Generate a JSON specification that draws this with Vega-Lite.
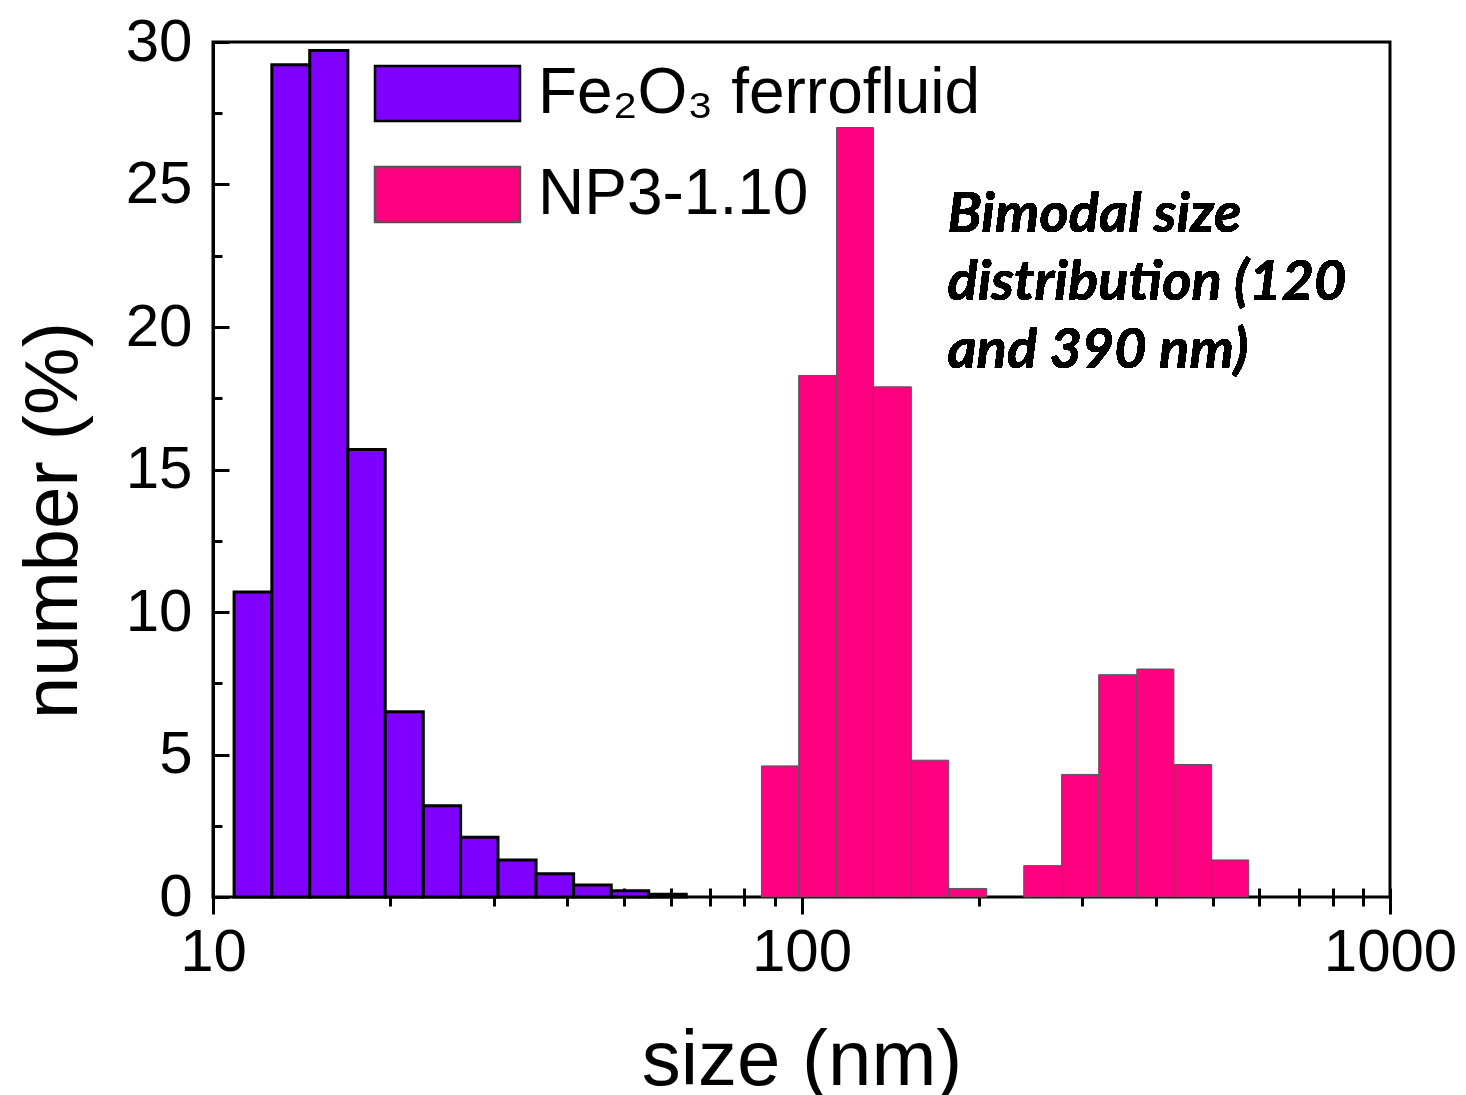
{
  "$schema": "https://vega.github.io/schema/vega-lite/v6.json",
  "autosize": {"type": "none"},
  "padding": {"left": 213, "top": 42, "right": 76, "bottom": 198},
  "width": 1177,
  "height": 855,
  "background": "white",
  "config": {
    "view": {"stroke": "black", "strokeWidth": 3},
    "axis": {"domainColor": "black", "domainWidth": 3, "tickColor": "black", "tickWidth": 3, "grid": false, "labelColor": "black", "titleColor": "black", "labelFont": "Liberation Sans", "titleFont": "Liberation Sans", "titleFontWeight": "normal"}
  },
  "data": {
    "values": [
      {"series": "Fe₂O₃ ferrofluid", "x0": 10.86, "x1": 12.59, "pct": 10.7},
      {"series": "Fe₂O₃ ferrofluid", "x0": 12.59, "x1": 14.6, "pct": 29.2},
      {"series": "Fe₂O₃ ferrofluid", "x0": 14.6, "x1": 16.95, "pct": 29.7},
      {"series": "Fe₂O₃ ferrofluid", "x0": 16.95, "x1": 19.62, "pct": 15.7},
      {"series": "Fe₂O₃ ferrofluid", "x0": 19.62, "x1": 22.77, "pct": 6.5},
      {"series": "Fe₂O₃ ferrofluid", "x0": 22.77, "x1": 26.35, "pct": 3.2},
      {"series": "Fe₂O₃ ferrofluid", "x0": 26.35, "x1": 30.5, "pct": 2.1},
      {"series": "Fe₂O₃ ferrofluid", "x0": 30.5, "x1": 35.4, "pct": 1.3},
      {"series": "Fe₂O₃ ferrofluid", "x0": 35.4, "x1": 41.0, "pct": 0.82},
      {"series": "Fe₂O₃ ferrofluid", "x0": 41.0, "x1": 47.5, "pct": 0.42},
      {"series": "Fe₂O₃ ferrofluid", "x0": 47.5, "x1": 55.0, "pct": 0.22},
      {"series": "Fe₂O₃ ferrofluid", "x0": 55.0, "x1": 63.7, "pct": 0.1},
      {"series": "NP3-1.10", "x0": 85.5, "x1": 98.9, "pct": 4.6},
      {"series": "NP3-1.10", "x0": 98.9, "x1": 114.7, "pct": 18.3},
      {"series": "NP3-1.10", "x0": 114.7, "x1": 132.5, "pct": 27.0},
      {"series": "NP3-1.10", "x0": 132.5, "x1": 153.7, "pct": 17.9},
      {"series": "NP3-1.10", "x0": 153.7, "x1": 177.9, "pct": 4.8},
      {"series": "NP3-1.10", "x0": 177.9, "x1": 206.4, "pct": 0.3},
      {"series": "NP3-1.10", "x0": 238.6, "x1": 276.7, "pct": 1.1},
      {"series": "NP3-1.10", "x0": 276.7, "x1": 319.9, "pct": 4.3},
      {"series": "NP3-1.10", "x0": 319.9, "x1": 371.3, "pct": 7.8},
      {"series": "NP3-1.10", "x0": 371.3, "x1": 429.3, "pct": 8.0},
      {"series": "NP3-1.10", "x0": 429.3, "x1": 497.7, "pct": 4.65},
      {"series": "NP3-1.10", "x0": 497.7, "x1": 575.4, "pct": 1.3}
    ]
  },
  "layer": [
    {
      "mark": {"type": "bar"},
      "encoding": {
        "x": {"field": "x0", "type": "quantitative", "scale": {"type": "log", "domain": [10, 1000], "nice": false},
          "axis": {"orient": "bottom", "offset": -9, "domain": false, "values": [10,20,30,40,50,60,70,80,90,100,200,300,400,500,600,700,800,900,1000], "format": "d",
            "labelExpr": "datum.value == 10 || datum.value == 100 || datum.value == 1000 ? datum.label : ''",
            "labelFontSize": 60, "labelPadding": 9, "labelFlush": false, "labelOverlap": false,
            "tickSize": {"condition": {"test": "datum.value == 10 || datum.value == 100 || datum.value == 1000", "value": 26}, "value": 18},
            "title": "size (nm)", "titleFontSize": 78, "titlePadding": 40}},
        "x2": {"field": "x1"},
        "y": {"field": "pct", "type": "quantitative", "scale": {"domain": [0, 30], "nice": false},
          "axis": {"values": [0,2.5,5,7.5,10,12.5,15,17.5,20,22.5,25,27.5,30],
            "labelExpr": "datum.value % 5 == 0 ? datum.label : ''",
            "labelFontSize": 60, "labelPadding": 37, "labelBaseline": "middle",
            "tickSize": {"condition": {"test": "datum.value % 5 == 0", "value": -16}, "value": -9},
            "title": "number (%)", "titleFontSize": 76, "titleX": -137, "titleY": 478, "titleAngle": -90, "titleAlign": "center", "titleBaseline": "alphabetic"}},
        "y2": {"datum": 0},
        "fill": {"field": "series", "type": "nominal", "scale": {"domain": ["Fe₂O₃ ferrofluid", "NP3-1.10"], "range": ["#8000FF", "#FF0080"]},
          "legend": {"title": null, "orient": "none", "legendX": 197, "legendY": 14,
            "symbolType": "M-2,-0.76H2V0.76H-2Z", "symbolSize": 5256, "symbolStrokeWidth": 2.5,
            "labelFont": "Liberation Sans", "labelFontSize": 64, "labelColor": "black", "labelLimit": 1000, "labelOffset": 53, "rowPadding": 30}},
        "stroke": {"field": "series", "type": "nominal", "scale": {"domain": ["Fe₂O₃ ferrofluid", "NP3-1.10"], "range": ["#000000", "#555555"]}},
        "strokeWidth": {"condition": {"test": "datum.series == 'NP3-1.10'", "value": 1}, "value": 3}
      }
    },
    {
      "mark": {"type": "text", "align": "left", "baseline": "alphabetic", "font": "Lato", "fontStyle": "italic", "fontWeight": "bold", "fontSize": 56, "lineHeight": 68, "color": "black",
        "text": ["Bimodal size", "distribution (120", "and 390 nm)"]},
      "encoding": {
        "x": {"datum": 177, "type": "quantitative"},
        "y": {"datum": 23.33, "type": "quantitative"}
      }
    }
  ]
}
